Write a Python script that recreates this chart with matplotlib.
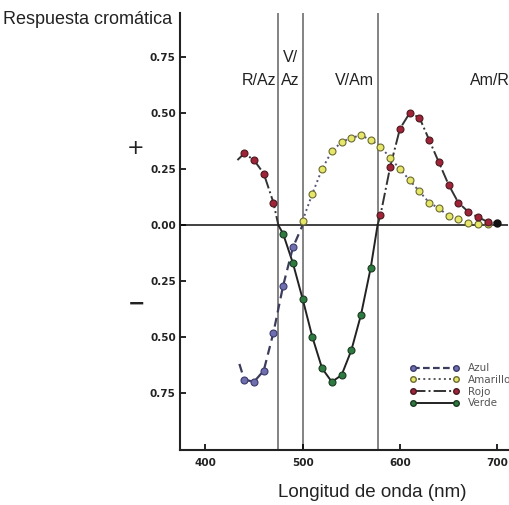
import matplotlib
matplotlib.use('Agg')
import matplotlib.pyplot as plt
from matplotlib.lines import Line2D

# chromatic response data
azul_nm = [440, 450, 460, 470, 480, 490]
azul = [-0.69, -0.70, -0.65, -0.48, -0.27, -0.10]

amarillo_nm = [500, 510, 520, 530, 540, 550, 560, 570, 580, 590, 600,
               610, 620, 630, 640, 650, 660, 670, 680, 690]
amarillo = [0.02, 0.14, 0.25, 0.33, 0.37, 0.39, 0.40, 0.38, 0.35, 0.30, 0.25,
            0.20, 0.15, 0.10, 0.075, 0.04, 0.025, 0.01, 0.005, 0.005]

rojo_nm = [440, 450, 460, 470, 580, 590, 600, 610, 620, 630, 640, 650, 660, 670, 680, 690]
rojo = [0.32, 0.29, 0.23, 0.10, 0.045, 0.26, 0.43, 0.50, 0.48, 0.38, 0.28, 0.18,
        0.10, 0.06, 0.035, 0.015]

verde_nm = [480, 490, 500, 510, 520, 530, 540, 550, 560, 570]
verde = [-0.04, -0.17, -0.33, -0.50, -0.64, -0.70, -0.67, -0.56, -0.40, -0.19]

# neutral points (zero crossings) and where the curves start / end
neutros = [475, 500, 577]
rojo_inicio = (433, 0.29)
azul_inicio = (435, -0.62)
fin = (700, 0.01)

region_labels = ['R/Az', 'V/\nAz', 'V/Am', 'Am/R']
region_x = [455, 487, 553, 692]
yticks = [-0.75, -0.50, -0.25, 0.0, 0.25, 0.50, 0.75]

fig = plt.figure(figsize=(5.10, 5.05), dpi=100)
ax = fig.add_axes([0.353, 0.109, 0.643, 0.865])
ax.set_xlim(374, 711)
ax.set_ylim(-1.004, 0.946)

for x in neutros:
    ax.axvline(x, color='#7a7a7a', lw=1.3, zorder=1)
ax.axhline(0, color='#333333', lw=1.3, zorder=1)

# lines
ax.plot([rojo_inicio[0]] + rojo_nm[:4] + [neutros[0]],
        [rojo_inicio[1]] + rojo[:4] + [0], color='#333333', ls='-.', lw=1.4, zorder=2)
ax.plot([neutros[2]] + rojo_nm[4:] + [fin[0]],
        [0] + rojo[4:] + [fin[1]], color='#333333', ls='-.', lw=1.4, zorder=2)
ax.plot([neutros[0]] + verde_nm + [neutros[2]],
        [0] + verde + [0], color='#222222', ls='-', lw=1.4, zorder=2)
ax.plot([azul_inicio[0]] + azul_nm + [neutros[1]],
        [azul_inicio[1]] + azul + [0], color='#3c3c5c', ls=(0, (4, 2.5)), lw=1.6, zorder=2)
ax.plot(amarillo_nm + [fin[0]], amarillo + [fin[1]], color='#555577',
        ls=':', lw=1.4, zorder=2)

# markers
mk = dict(ls='none', marker='o', ms=5, mew=0.8, zorder=3)
ax.plot(azul_nm, azul, mfc='#6f6fb0', mec='#3a3a6a', **mk)
ax.plot(amarillo_nm, amarillo, mfc='#e6e66a', mec='#6a6a30', **mk)
ax.plot(rojo_nm, rojo, mfc='#a02438', mec='#4a1a20', **mk)
ax.plot(verde_nm, verde, mfc='#2f7a40', mec='#1a3a20', **mk)
ax.plot([fin[0]], [fin[1]], ls='none', marker='o', ms=5, color='#111111', zorder=3)

handles = [
    Line2D([], [], color='#3c3c5c', ls=(0, (3, 1.5)), lw=1.6, marker='o', ms=4,
           mfc='#6f6fb0', mec='#3a3a6a'),
    Line2D([], [], color='#555555', ls=':', lw=1.4, marker='o', ms=4,
           mfc='#e6e66a', mec='#6a6a30'),
    Line2D([], [], color='#333333', ls='-.', lw=1.4, marker='o', ms=4,
           mfc='#a02438', mec='#4a1a20'),
    Line2D([], [], color='#222222', ls='-', lw=1.4, marker='o', ms=4,
           mfc='#2f7a40', mec='#1a3a20'),
]
leg = ax.legend(handles, ['Azul', 'Amarillo', 'Rojo', 'Verde'], loc='upper left',
                bbox_to_anchor=(0.70, 0.198), frameon=False, fontsize=7.5,
                numpoints=2, handlelength=4.8, handletextpad=0.8,
                labelspacing=0.15, borderaxespad=0, borderpad=0)
for t in leg.get_texts():
    t.set_color('#555555')

for s in ['top', 'right']:
    ax.spines[s].set_visible(False)
for s in ['left', 'bottom']:
    ax.spines[s].set_linewidth(1.5)
    ax.spines[s].set_color('#222222')

ax.set_xticks([400, 500, 600, 700])
ax.set_yticks(yticks)
ax.set_yticklabels(['%.2f' % abs(v) for v in yticks])
ax.tick_params(direction='in', length=4, width=1.2, labelsize=7.5)
ax.tick_params(axis='y', pad=3)
ax.tick_params(axis='x', pad=6)
for lab in ax.get_xticklabels() + ax.get_yticklabels():
    lab.set_fontweight('bold')
    lab.set_color('#222222')

# region labels: last line sits on the same baseline, earlier lines stacked above
for lab, x in zip(region_labels, region_x):
    lineas = lab.split('\n')
    for i, linea in enumerate(reversed(lineas)):
        ax.text(x, 0.625 + 0.103 * i, linea, ha='center', va='baseline', fontsize=11.5,
                family='Liberation Sans', color='#222222')

fig.text(0.006, 0.962, 'Respuesta cromática', fontsize=13, family='Liberation Sans',
         va='center', color='#222222')
fig.text(0.265, 0.706, '+', fontsize=15, ha='center', va='center', color='#222222')
fig.text(0.268, 0.398, '\u2212', fontsize=15, ha='center', va='center', color='#222222',
         fontweight='bold')
fig.text(0.73, 0.024, 'Longitud de onda (nm)', fontsize=13.5, family='Liberation Sans',
         ha='center', va='center', color='#222222')

fig.savefig('out.png', dpi=100)
